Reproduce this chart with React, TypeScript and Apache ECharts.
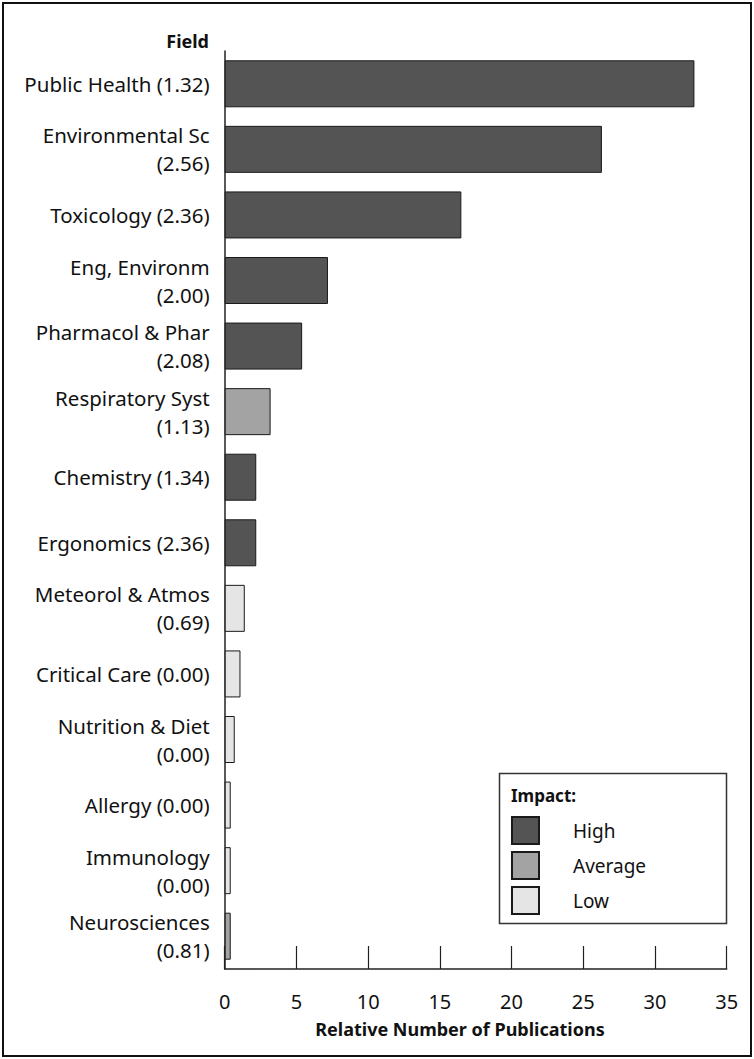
import React, { useEffect, useRef } from "react";
import * as echarts from "echarts";

const categories = [
  "Public Health (1.32)",
  "Environmental Sc\n(2.56)",
  "Toxicology (2.36)",
  "Eng, Environm\n(2.00)",
  "Pharmacol & Phar\n(2.08)",
  "Respiratory Syst\n(1.13)",
  "Chemistry (1.34)",
  "Ergonomics (2.36)",
  "Meteorol & Atmos\n(0.69)",
  "Critical Care (0.00)",
  "Nutrition & Diet\n(0.00)",
  "Allergy (0.00)",
  "Immunology\n(0.00)",
  "Neurosciences\n(0.81)",
];

const values = [32.75, 26.3, 16.5, 7.2, 5.4, 3.2, 2.2, 2.2, 1.4, 1.1, 0.7, 0.42, 0.42, 0.42];

const impacts = [
  "High", "High", "High", "High", "High", "Average", "High", "High",
  "Low", "Low", "Low", "Low", "Low", "Average",
];

const impactLevels = ["High", "Average", "Low"];
const impactColors: Record<string, string> = {
  High: "#545454",
  Average: "#a3a3a3",
  Low: "#e5e5e5",
};

const xTicks = { min: 0, max: 35, interval: 5 };

const FONT = "'Noto Sans', sans-serif";

export default function App() {
  const ref = useRef<HTMLDivElement>(null);

  useEffect(() => {
    document.body.style.margin = "0";
    if (!ref.current) return;
    const chart = echarts.init(ref.current, null, { renderer: "svg" });

    const series = impactLevels.map((lvl) => ({
      name: lvl,
      type: "bar",
      stack: "total",
      barWidth: 47,
      data: values.map((v, i) => (impacts[i] === lvl ? v : "-")),
      itemStyle: {
        color: impactColors[lvl],
        borderColor: "#1a1a1a",
        borderWidth: 1,
      },
    }));

    chart.setOption({
      animation: false,
      backgroundColor: "#ffffff",
      textStyle: { fontFamily: FONT },
      grid: { left: 224.7, top: 51, width: 502, height: 918, containLabel: false },
      xAxis: {
        type: "value",
        min: xTicks.min,
        max: xTicks.max,
        interval: xTicks.interval,
        axisLine: { show: true, lineStyle: { color: "#222", width: 1.5 } },
        axisTick: { show: true, inside: true, length: 23, lineStyle: { color: "#222", width: 1.2 } },
        splitLine: { show: false },
        axisLabel: { fontSize: 20, color: "#111", margin: 22, fontFamily: FONT },
      },
      yAxis: {
        type: "category",
        inverse: true,
        data: categories,
        axisLine: { show: true, lineStyle: { color: "#222", width: 1.5 } },
        axisTick: { show: false },
        axisLabel: {
          fontSize: 20.5,
          lineHeight: 28,
          color: "#111",
          margin: 15,
          align: "right",
          fontFamily: FONT,
        },
      },
      legend: {
        data: impactLevels,
        orient: "vertical",
        left: 511,
        top: 816,
        padding: 0,
        itemWidth: 27,
        itemHeight: 27,
        itemGap: 6,
        icon: "rect",
        selectedMode: false,
        textStyle: { fontSize: 19, lineHeight: 27, color: "#111", padding: [0, 0, 0, 29], fontFamily: FONT },
      },
      graphic: [
        {
          type: "rect",
          shape: { x: 3, y: 3, width: 748, height: 1053 },
          style: { fill: "none", stroke: "#111", lineWidth: 2 },
          silent: true,
        },
        {
          type: "rect",
          shape: { x: 499.5, y: 773.5, width: 227, height: 150 },
          style: { fill: "none", stroke: "#333", lineWidth: 1.5 },
          silent: true,
        },
        {
          type: "text",
          x: 511,
          y: 795,
          style: {
            text: "Impact:",
            fontSize: 17,
            fontWeight: "bold",
            fontFamily: FONT,
            fill: "#111",
            verticalAlign: "middle",
            align: "left",
          },
        },
        {
          type: "text",
          x: 209,
          y: 41,
          style: {
            text: "Field",
            fontSize: 18,
            fontWeight: "bold",
            fontFamily: FONT,
            fill: "#111",
            verticalAlign: "middle",
            align: "right",
          },
        },
        {
          type: "text",
          x: 460,
          y: 1029,
          style: {
            text: "Relative Number of Publications",
            fontSize: 18,
            fontWeight: "bold",
            fontFamily: FONT,
            fill: "#111",
            verticalAlign: "middle",
            align: "center",
          },
        },
      ],
      series,
    });

    return () => chart.dispose();
  }, []);

  return <div ref={ref} style={{ width: 754, height: 1059 }} />;
}
